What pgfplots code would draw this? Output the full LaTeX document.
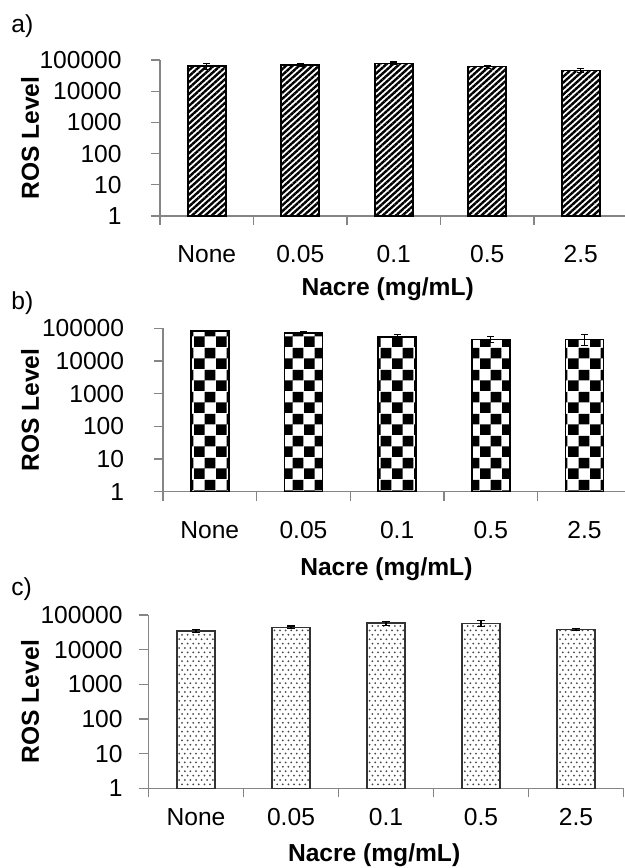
\documentclass[border=0pt]{standalone}
\usepackage{fontspec}
\setmainfont{Liberation Sans}
\usepackage{pgfplots}
\pgfplotsset{compat=1.18}
\usetikzlibrary{patterns,patterns.meta}
\definecolor{axgray}{HTML}{858585}
\definecolor{dotgray}{HTML}{454545}
\newcommand\tf{\fontsize{12.3}{14}\selectfont}

% checkerboard with large squares
\pgfdeclarepatternformonly{bigcheck}{\pgfpointorigin}{\pgfqpoint{10.8pt}{10.8pt}}{\pgfqpoint{10.8pt}{10.8pt}}{%
  \pgfpathrectangle{\pgfpointorigin}{\pgfqpoint{5.4pt}{5.4pt}}%
  \pgfpathrectangle{\pgfqpoint{5.4pt}{5.4pt}}{\pgfqpoint{5.4pt}{5.4pt}}%
  \pgfusepath{fill}}
% staggered fine dots
\pgfdeclarepatternformonly{finedots}{\pgfqpoint{-0.6pt}{-0.6pt}}{\pgfqpoint{3.4pt}{5pt}}{\pgfqpoint{2.8pt}{4.4pt}}{%
  \pgfpathcircle{\pgfqpoint{0pt}{0pt}}{0.5pt}%
  \pgfpathcircle{\pgfqpoint{1.4pt}{2.2pt}}{0.5pt}%
  \pgfusepath{fill}}

\pgfplotsset{
  every axis/.append style={
    scale only axis, anchor=south west,
    ymin=1, ymax=100000,
    xmin=-0.5, xmax=4.5,
    axis x line*=bottom, axis y line*=left,
    axis line style={axgray, line width=0.6pt},
    tick style={axgray, line width=0.6pt},
    tick align=outside, major tick length=4.5pt,
    ytick={1,10,100,1000,10000,100000},
    yticklabels={1,10,100,1000,10000,100000},
    xtick={-0.5,0.5,1.5,2.5,3.5,4.5}, xticklabels={},
    extra x ticks={0,1,2,3,4},
    extra x tick labels={None,0.05,0.1,0.5,2.5},
    extra x tick style={major tick length=0pt},
    tick label style={font=\tf, text=black, inner sep=0pt},
    xlabel={Nacre (mg/mL)}, ylabel={ROS Level},
    label style={font=\tf\bfseries, inner sep=0pt},
    bar width=19pt,
    clip=false,
  },
}

\begin{document}
\begin{tikzpicture}
\useasboundingbox (0,0) rectangle (312.5pt,434pt);

% panel labels
\node[font=\tf, anchor=base west, inner sep=0pt] at (5.5pt,417.7pt) {a)};
\node[font=\tf, anchor=base west, inner sep=0pt] at (5.5pt,279pt) {b)};
\node[font=\tf, anchor=base west, inner sep=0pt] at (5.5pt,136pt) {c)};

% a) diagonal stripes
\begin{semilogyaxis}[at={(80pt,326pt)}, width=233.75pt, height=78pt,
  ybar, yminorticks=false,
  xticklabel style={anchor=base, yshift=-23.5pt},
  yticklabel style={anchor=east, xshift=-14.5pt},
  xlabel style={at={(axis description cs:0.487,0)}, anchor=base, yshift=-40pt},
  ylabel style={at={(axis description cs:-0.278,0.5)}, anchor=center}]
\addplot[draw=black, line width=0.8pt,
  pattern={Lines[angle=42,distance=2.2pt,line width=1.2pt]}, pattern color=black,
  error bars/.cd, y dir=both, y explicit,
  error bar style={black, line width=0.6pt, solid},
  error mark options={black, line width=0.6pt, mark size=1.8pt, rotate=90}]
  coordinates {(0,63000) +- (0,12000) (1,70000) +- (0,8000) (2,78000) +- (0,8000)
               (3,61000) +- (0,7000) (4,46000) +- (0,7000)};
\end{semilogyaxis}

% b) checkerboard
\begin{semilogyaxis}[at={(81.45pt,188.15pt)}, width=234.25pt, height=81.7pt,
  ybar, yminorticks=false,
  xticklabel style={anchor=base, yshift=-23.65pt},
  yticklabel style={anchor=east, xshift=-14.7pt},
  xlabel style={at={(axis description cs:0.477,0)}, anchor=base, yshift=-42.15pt},
  ylabel style={at={(axis description cs:-0.2837,0.5)}, anchor=center}]
\addplot[draw=black, line width=0.8pt, pattern=bigcheck, pattern color=black,
  error bars/.cd, y dir=both, y explicit,
  error bar style={black, line width=0.6pt, solid},
  error mark options={black, line width=0.6pt, mark size=1.8pt, rotate=90}]
  coordinates {(0,82000) +- (0,6000) (1,73000) +- (0,5000) (2,55000) +- (0,10000)
               (3,46000) +- (0,9000) (4,46000) +- (0,17000)};
\end{semilogyaxis}

% c) fine dots
\begin{semilogyaxis}[at={(74.25pt,39.85pt)}, width=237.5pt, height=86.65pt,
  ybar, yminorticks=false,
  xticklabel style={anchor=base, yshift=-18.35pt},
  yticklabel style={anchor=east, xshift=-8.25pt},
  xlabel style={at={(axis description cs:0.475,0)}, anchor=base, yshift=-36.6pt},
  ylabel style={at={(axis description cs:-0.2495,0.5)}, anchor=center}]
\addplot[draw=black!80, line width=0.8pt, pattern=finedots, pattern color=dotgray,
  error bars/.cd, y dir=both, y explicit,
  error bar style={black, line width=0.6pt, solid},
  error mark options={black, line width=0.6pt, mark size=1.8pt, rotate=90}]
  coordinates {(0,35000) +- (0,4000) (1,44000) +- (0,4000) (2,58000) +- (0,8000)
               (3,57500) +- (0,11500) (4,38500) +- (0,2000)};
\end{semilogyaxis}
\end{tikzpicture}
\end{document}
